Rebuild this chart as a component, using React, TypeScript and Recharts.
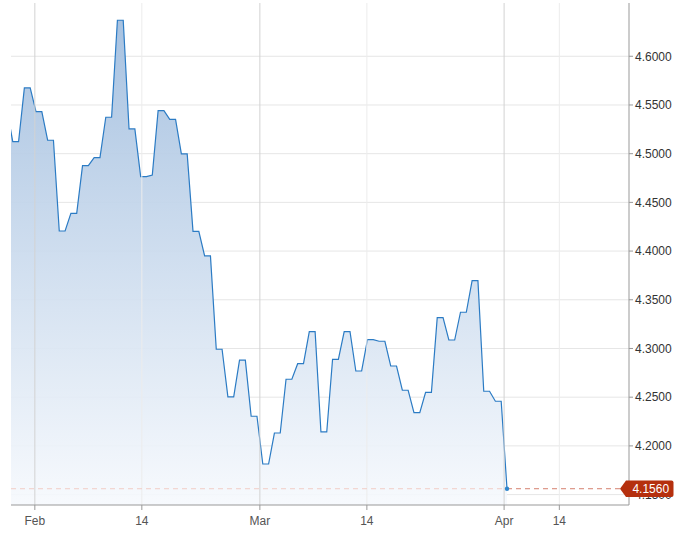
import React from 'react';
import {
  AreaChart,
  Area,
  XAxis,
  YAxis,
  CartesianGrid,
  ReferenceLine,
  ReferenceDot,
} from 'recharts';

// half-session slots, slot k sits at t = k / 2 (t in trading sessions from Feb 3)
const FIRST_SLOT = -5;
const yields = [
  4.5455, 4.5123, 4.5123, 4.5675, 4.5675, 4.5431, 4.5431, 4.5138, 4.5138, 4.4206,
  4.4206, 4.4388, 4.4388, 4.4877, 4.4877, 4.4959, 4.4959, 4.5374, 4.5374, 4.637,
  4.637, 4.5254, 4.5254, 4.4764, 4.4764, 4.478, 4.5441, 4.5441, 4.5353, 4.5353,
  4.4997, 4.4997, 4.4203, 4.4203, 4.395, 4.395, 4.2992, 4.2992, 4.2504, 4.2504,
  4.288, 4.288, 4.2304, 4.2304, 4.1814, 4.1814, 4.2132, 4.2132, 4.2684, 4.2684,
  4.2844, 4.2844, 4.3173, 4.3173, 4.2143, 4.2143, 4.2889, 4.2889, 4.3173, 4.3173,
  4.2769, 4.2769, 4.309, 4.309, 4.3074, 4.3074, 4.282, 4.282, 4.2571, 4.2571,
  4.2341, 4.2341, 4.255, 4.255, 4.3316, 4.3316, 4.3087, 4.3087, 4.3372, 4.3372,
  4.3696, 4.3696, 4.2561, 4.2561, 4.2458, 4.2458, 4.156,
];

const xTicks = [-0.1, 9.1, 19.25, 28.45, 40.25, 45];
const xLabels = ['Feb', '14', 'Mar', '14', 'Apr', '14'];
const monthTick = [true, false, true, false, true, false];

const yTicks = [4.15, 4.2, 4.25, 4.3, 4.35, 4.4, 4.45, 4.5, 4.55, 4.6];
const X_DOMAIN: [number, number] = [-2.15, 50.99];
const Y_DOMAIN: [number, number] = [4.1393, 4.6547];

const LAST_VALUE = 4.156;

const data = yields.map((v, i) => ({ t: (FIRST_SLOT + i) / 2, v }));
const lastT = data[data.length - 1].t;

const FONT = '"Liberation Sans", Arial, sans-serif';

// the last-value badge rides on the y axis as its final tick, so it paints over 4.1500
const renderYTick = (props: any) => {
  const { x, y, payload } = props;
  if (payload.value === LAST_VALUE) {
    const axisX = x - 6;
    const tip = axisX - 9;
    const left = axisX - 3;
    const end = axisX + 44.5;
    const h = 8.2;
    const path = `M${tip},${y} L${left},${y - h} L${end - 2},${y - h} Q${end},${y - h} ${end},${y - h + 2} L${end},${y + h - 2} Q${end},${y + h} ${end - 2},${y + h} L${left},${y + h} Z`;
    return (
      <g>
        <path d={path} fill="#b5300e" />
        <text
          x={(left + end) / 2 + 1}
          y={y}
          dy="0.36em"
          textAnchor="middle"
          fontSize={12}
          fontFamily={FONT}
          fill="#ffffff"
        >
          {LAST_VALUE.toFixed(4)}
        </text>
      </g>
    );
  }
  return (
    <text
      x={x}
      y={y}
      dy="0.355em"
      textAnchor="start"
      fontSize={12}
      fontFamily={FONT}
      fill="#333"
    >
      {Number(payload.value).toFixed(4)}
    </text>
  );
};

export default function App() {
  return (
    <div style={{ position: 'absolute', left: 0, top: 0, background: '#fff' }}>
      <AreaChart
        width={692}
        height={537}
        data={data}
        margin={{ top: 3, right: 0, bottom: 0, left: 11 }}
      >
        <defs>
          <linearGradient id="yieldFill" x1="0" y1="0" x2="0" y2="1">
            <stop offset="0%" stopColor="#a3bfdf" stopOpacity={0.95} />
            <stop offset="100%" stopColor="#f6f9fd" stopOpacity={0.9} />
          </linearGradient>
        </defs>
        <CartesianGrid
          horizontal
          vertical={false}
          horizontalValues={yTicks}
          stroke="#e6e6e6"
        />
        {xTicks.map((t, i) => (
          <ReferenceLine
            key={`vx${i}`}
            x={t}
            stroke={monthTick[i] ? '#d2d2d2' : '#ececec'}
            strokeWidth={1}
          />
        ))}
        <XAxis
          type="number"
          dataKey="t"
          domain={X_DOMAIN}
          allowDataOverflow
          ticks={xTicks}
          tickFormatter={(_v: number, i: number) => xLabels[i]}
          height={32}
          stroke="#999"
          tickSize={5}
          tickMargin={6}
          tick={{ fill: '#555', fontSize: 12, fontFamily: FONT }}
          interval={0}
        />
        <YAxis
          orientation="right"
          type="number"
          domain={Y_DOMAIN}
          allowDataOverflow
          ticks={[...yTicks, LAST_VALUE]}
          width={63}
          stroke="#999"
          tickSize={4}
          tickMargin={2}
          tick={renderYTick}
          interval={0}
        />
        <ReferenceLine
          segment={[
            { x: X_DOMAIN[0], y: LAST_VALUE },
            { x: lastT, y: LAST_VALUE },
          ]}
          stroke="#f1cdc6"
          strokeDasharray="5 4"
        />
        <ReferenceLine
          segment={[
            { x: lastT, y: LAST_VALUE },
            { x: X_DOMAIN[1], y: LAST_VALUE },
          ]}
          stroke="#d5816f"
          strokeDasharray="5 4"
        />
        <Area
          type="linear"
          dataKey="v"
          stroke="#2b7bc4"
          strokeWidth={1.2}
          fill="url(#yieldFill)"
          fillOpacity={1}
          dot={false}
          activeDot={false}
          isAnimationActive={false}
        />
        <ReferenceDot x={lastT} y={LAST_VALUE} r={2.2} fill="#2f86cc" stroke="none" />
      </AreaChart>
    </div>
  );
}
